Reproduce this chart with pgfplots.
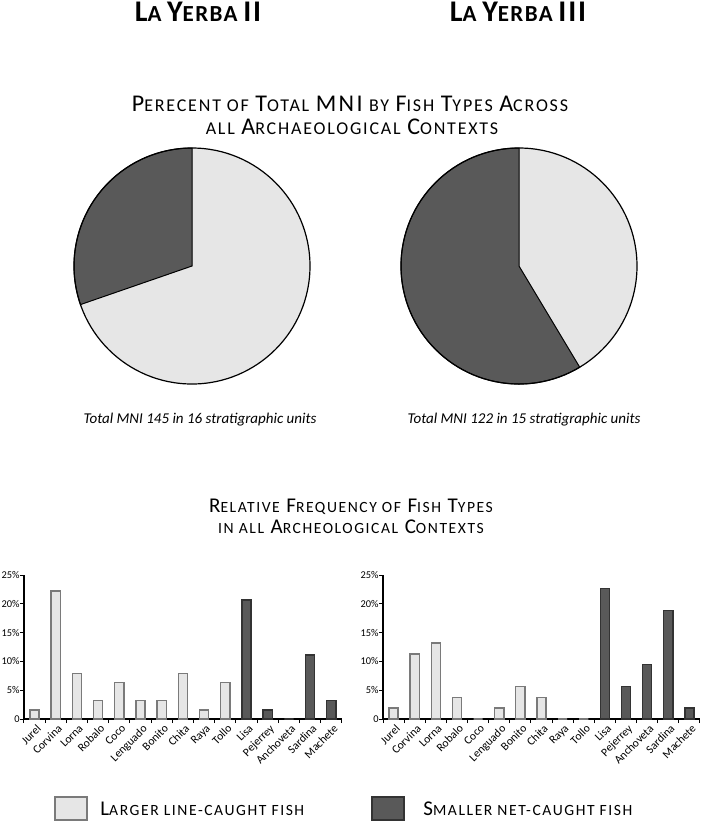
\documentclass[border=0pt]{standalone}
\usepackage{pgfplots}
\pgfplotsset{compat=1.18}
\usepackage{fontspec}
\setmainfont{Carlito}
\newfontfamily\trk[LetterSpace=10]{Carlito}
\newfontfamily\trkb[LetterSpace=6]{Carlito}
\newcommand\bigc[1]{{\fontsize{12}{13}\selectfont #1}}
\newcommand\smc[1]{{\fontsize{9}{10}\selectfont #1}}
\newcommand\lbig[1]{{\fontsize{10.5}{12}\selectfont #1}}
\newcommand\lsmc[1]{{\fontsize{7.8}{10}\selectfont #1}}
\newcommand\tbig[1]{{\fontsize{15}{16}\selectfont #1}}
\newcommand\tsmc[1]{{\fontsize{11.5}{13}\selectfont #1}}
\definecolor{lightf}{HTML}{E6E6E6}
\definecolor{lightd}{HTML}{7A7A7A}
\definecolor{darkf}{HTML}{595959}
\definecolor{darkd}{HTML}{333333}
% pie fractions (percent of total MNI, smaller net-caught fish)
\def\darkII{30.3}
\def\darkIII{58.6}
\pgfplotstableread{
x y
0 1.59
1 22.22
2 7.94
3 3.17
4 6.35
5 3.17
6 3.17
7 7.94
8 1.59
9 6.35
}\lineII
\pgfplotstableread{
x y
10 20.63
11 1.59
12 0
13 11.11
14 3.17
}\netII
\pgfplotstableread{
x y
0 1.89
1 11.32
2 13.21
3 3.77
4 0
5 1.89
6 5.66
7 3.77
8 0
9 0
}\lineIII
\pgfplotstableread{
x y
10 22.64
11 5.66
12 9.43
13 18.87
14 1.89
}\netIII
\pgfplotsset{
  barax/.style={
    scale only axis, height=72pt,
    anchor=south west,
    xmin=-0.5, xmax=14.5, ymin=0, ymax=25,
    axis x line=bottom, axis y line=left,
    axis line style={-, black, line width=0.6pt},
    xtick={0,...,14},
    xticklabels={Jurel,Corvina,Lorna,Robalo,Coco,Lenguado,Bonito,Chita,Raya,Tollo,Lisa,Pejerrey,Anchoveta,Sardina,Machete},
    x tick label style={rotate=45, anchor=north east, font=\fontsize{5.8}{6}\selectfont, inner sep=1pt, yshift=-1pt},
    ytick={0,5,10,15,20,25},
    yticklabels={0,5\%,10\%,15\%,20\%,25\%},
    y tick label style={font=\fontsize{5.2}{6}\selectfont, inner sep=1pt, xshift=-1pt},
    minor xtick={-0.5,0.5,...,14.5},
    minor ytick={0,5,...,25},
    major tick length=0pt, minor tick length=2pt,
    tick align=outside,
    minor tick style={black, line width=0.5pt},
    ybar, bar width=4.6pt,
    clip=false,
  },
  pieax/.style={
    hide axis, scale only axis, width=118pt, height=118pt,
    xmin=-1, xmax=1, ymin=-1, ymax=1, anchor=center, clip=false,
  }
}
\begin{document}
\begin{tikzpicture}[x=0.5pt, y=-0.5pt]
\path[use as bounding box] (0,0) rectangle (702,821);
% titles
\node[anchor=base] at (198,21) {\trkb\bfseries\tbig{L}\tsmc{A} \tbig{Y}\tsmc{ERBA} \tbig{II}};
\node[anchor=base] at (518,21) {\trkb\bfseries\tbig{L}\tsmc{A} \tbig{Y}\tsmc{ERBA} \tbig{III}};
\node[anchor=base] at (350,111) {\trk\bigc{P}\smc{ERECENT OF} \bigc{T}\smc{OTAL} \bigc{MNI} \smc{BY} \bigc{F}\smc{ISH} \bigc{T}\smc{YPES} \bigc{A}\smc{CROSS}};
\node[anchor=base] at (352,134) {\trk\smc{ALL} \bigc{A}\smc{RCHAEOLOGICAL} \bigc{C}\smc{ONTEXTS}};
% pies
\begin{axis}[pieax, at={(96pt,-133pt)}]
\fill[lightf] (axis cs:0,0) circle[radius=59pt];
\filldraw[fill=darkf, draw=black, line width=0.5pt] (axis cs:0,0) -- (axis cs:0,1) arc[start angle=90, end angle={90+3.6*\darkII}, radius=59pt] -- cycle;
\draw[black, line width=0.6pt] (axis cs:0,0) circle[radius=59pt];
\end{axis}
\begin{axis}[pieax, at={(259.5pt,-133pt)}]
\fill[lightf] (axis cs:0,0) circle[radius=59pt];
\filldraw[fill=darkf, draw=black, line width=0.5pt] (axis cs:0,0) -- (axis cs:0,1) arc[start angle=90, end angle={90+3.6*\darkIII}, radius=59pt] -- cycle;
\draw[black, line width=0.6pt] (axis cs:0,0) circle[radius=59pt];
\end{axis}
\node[anchor=base] at (200,423) {\fontsize{7.5}{9}\selectfont\itshape Total MNI 145 in 16 stratigraphic units};
\node[anchor=base] at (524,423) {\fontsize{7.5}{9}\selectfont\itshape Total MNI 122 in 15 stratigraphic units};
% bar section title
\node[anchor=base] at (351,512) {\trk\lbig{R}\lsmc{ELATIVE} \lbig{F}\lsmc{REQUENCY OF} \lbig{F}\lsmc{ISH} \lbig{T}\lsmc{YPES}};
\node[anchor=base] at (351,533) {\trk\lsmc{IN ALL} \lbig{A}\lsmc{RCHEOLOGICAL} \lbig{C}\lsmc{ONTEXTS}};
% bar charts
\begin{axis}[barax, width=159pt, at={(12pt,-359.5pt)}]
\addplot[fill=lightf, draw=lightd, line width=0.7pt, bar shift=0pt] table[x=x,y=y] {\lineII};
\addplot[fill=darkf, draw=darkd, line width=0.7pt, bar shift=0pt] table[x=x,y=y] {\netII};
\end{axis}
\begin{axis}[barax, width=158.5pt, at={(191.5pt,-359.5pt)}]
\addplot[fill=lightf, draw=lightd, line width=0.7pt, bar shift=0pt] table[x=x,y=y] {\lineIII};
\addplot[fill=darkf, draw=darkd, line width=0.7pt, bar shift=0pt] table[x=x,y=y] {\netIII};
\end{axis}
% legend
\filldraw[fill=lightf, draw=lightd, line width=0.7pt] (55,797) rectangle (87,820);
\node[anchor=base west, inner sep=0pt] at (100,815) {\trk\lbig{L}\lsmc{ARGER LINE-CAUGHT FISH}};
\filldraw[fill=darkf, draw=darkd, line width=0.7pt] (372,797) rectangle (404,820);
\node[anchor=base west, inner sep=0pt] at (423,815) {\trk\lbig{S}\lsmc{MALLER NET-CAUGHT FISH}};
\end{tikzpicture}
\end{document}
